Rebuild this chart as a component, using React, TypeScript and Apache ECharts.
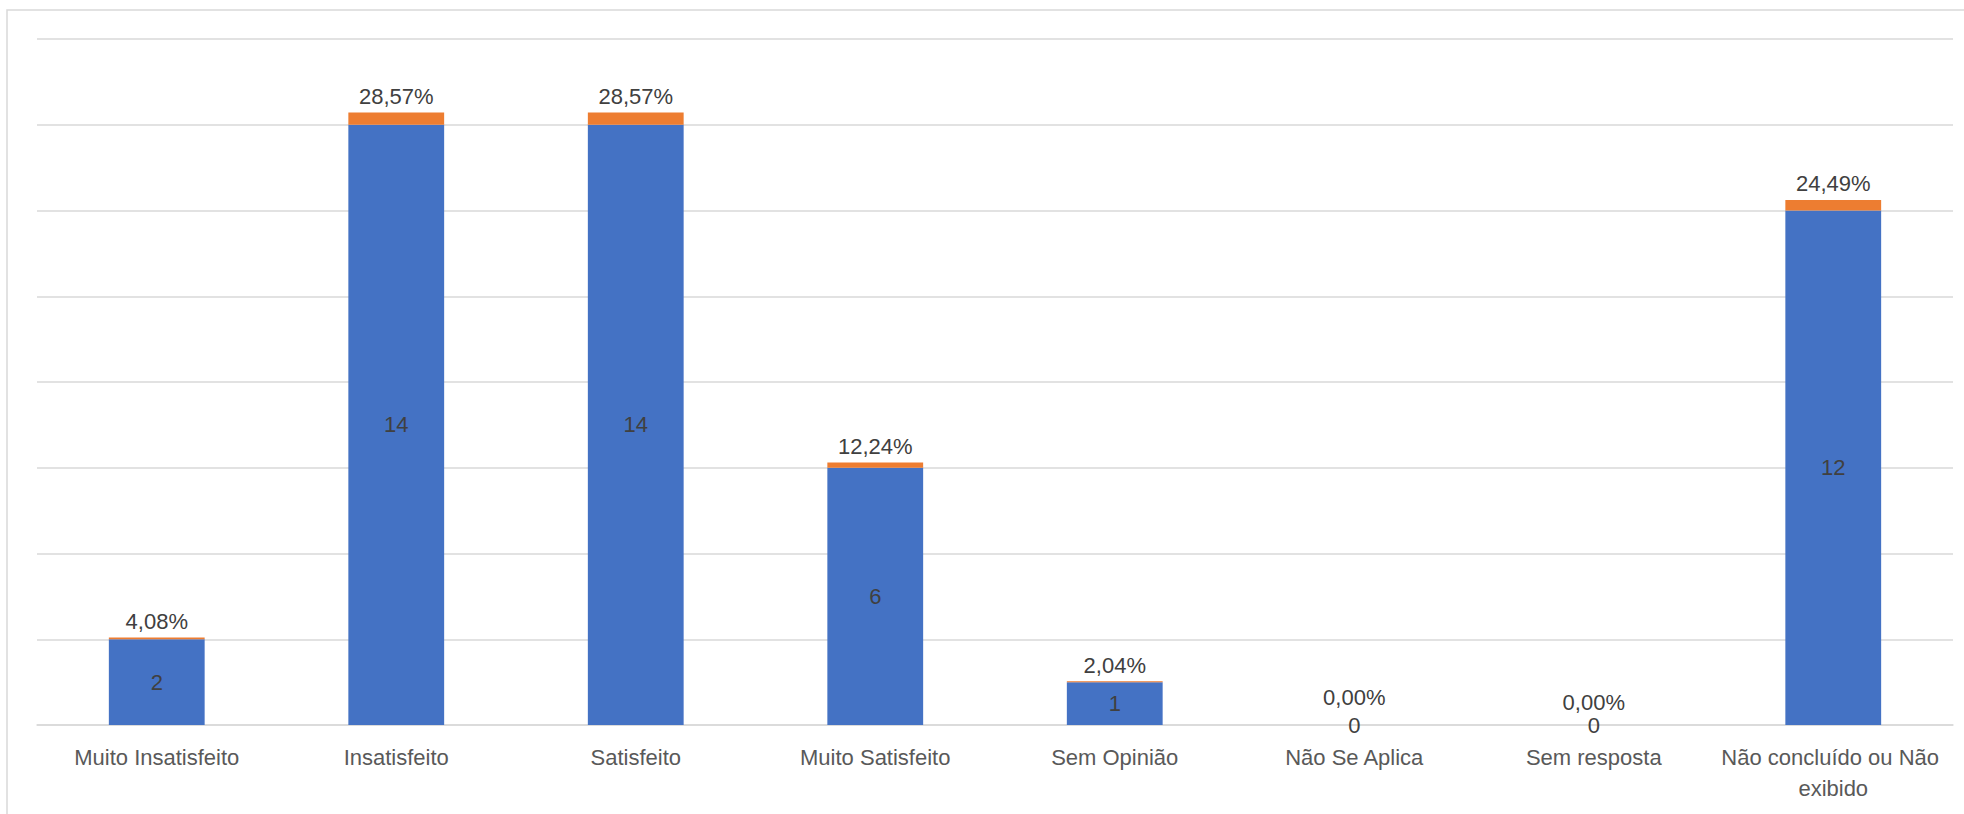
import React, { useEffect, useRef } from "react";
import * as echarts from "echarts";

const categories = [
  "Muito Insatisfeito",
  "Insatisfeito",
  "Satisfeito",
  "Muito Satisfeito",
  "Sem Opinião",
  "Não Se Aplica",
  "Sem resposta",
  "Não concluído ou Não exibido",
];
const counts = [2, 14, 14, 6, 1, 0, 0, 12];
const percents = [4.08, 28.57, 28.57, 12.24, 2.04, 0.0, 0.0, 24.49];
const yMin = 0;
const yMax = 16;
const yInterval = 2;

const FONT = "Liberation Sans";

export default function App() {
  const ref = useRef<HTMLDivElement>(null);
  useEffect(() => {
    if (!ref.current) return;
    const chart = echarts.init(ref.current, undefined, { renderer: "svg" });
    const pctData = percents.map((p, i) => {
      const item: any = { value: p / 100 };
      if (i === 5) item.label = { offset: [0, -12] };
      if (i === 6) item.label = { offset: [0, -7] };
      return item;
    });
    chart.setOption({
      animation: false,
      backgroundColor: "#ffffff",
      graphic: [
        {
          type: "rect",
          shape: { x: 7, y: 10, width: 2100, height: 900 },
          style: { fill: "none", stroke: "#d9d9d9", lineWidth: 1.5 },
          silent: true,
        },
      ],
      grid: {
        left: 37,
        right: 11,
        top: 39,
        bottom: 89,
        containLabel: false,
        outerBoundsMode: "none",
      },
      xAxis: {
        type: "category",
        data: categories,
        axisLine: { show: true, lineStyle: { color: "#d9d9d9", width: 1.5 } },
        axisTick: { show: false },
        axisLabel: {
          interval: 0,
          margin: 17,
          color: "#595959",
          fontFamily: FONT,
          fontSize: 22,
          lineHeight: 31,
          width: 262,
          overflow: "break",
        },
      },
      yAxis: {
        type: "value",
        min: yMin,
        max: yMax,
        interval: yInterval,
        axisLabel: { show: false },
        axisLine: { show: false },
        axisTick: { show: false },
        splitLine: { lineStyle: { color: "#d9d9d9", width: 1.5 } },
      },
      series: [
        {
          name: "Quantidade",
          type: "bar",
          stack: "total",
          barWidth: "40%",
          data: counts,
          itemStyle: { color: "#4472C4" },
          label: {
            show: true,
            position: "inside",
            color: "#404040",
            fontFamily: FONT,
            fontSize: 22,
          },
        },
        {
          name: "Percentual",
          type: "bar",
          stack: "total",
          barWidth: "40%",
          data: pctData,
          itemStyle: { color: "#ED7D31" },
          label: {
            show: true,
            position: "top",
            distance: 5,
            color: "#404040",
            fontFamily: FONT,
            fontSize: 22,
            formatter: (p: any) =>
              (Math.round(p.value * 10000) / 100).toFixed(2).replace(".", ",") + "%",
          },
        },
      ],
    });
    return () => chart.dispose();
  }, []);
  return (
    <div
      ref={ref}
      style={{ position: "fixed", left: 0, top: 0, width: 1964, height: 814, background: "#fff" }}
    />
  );
}
